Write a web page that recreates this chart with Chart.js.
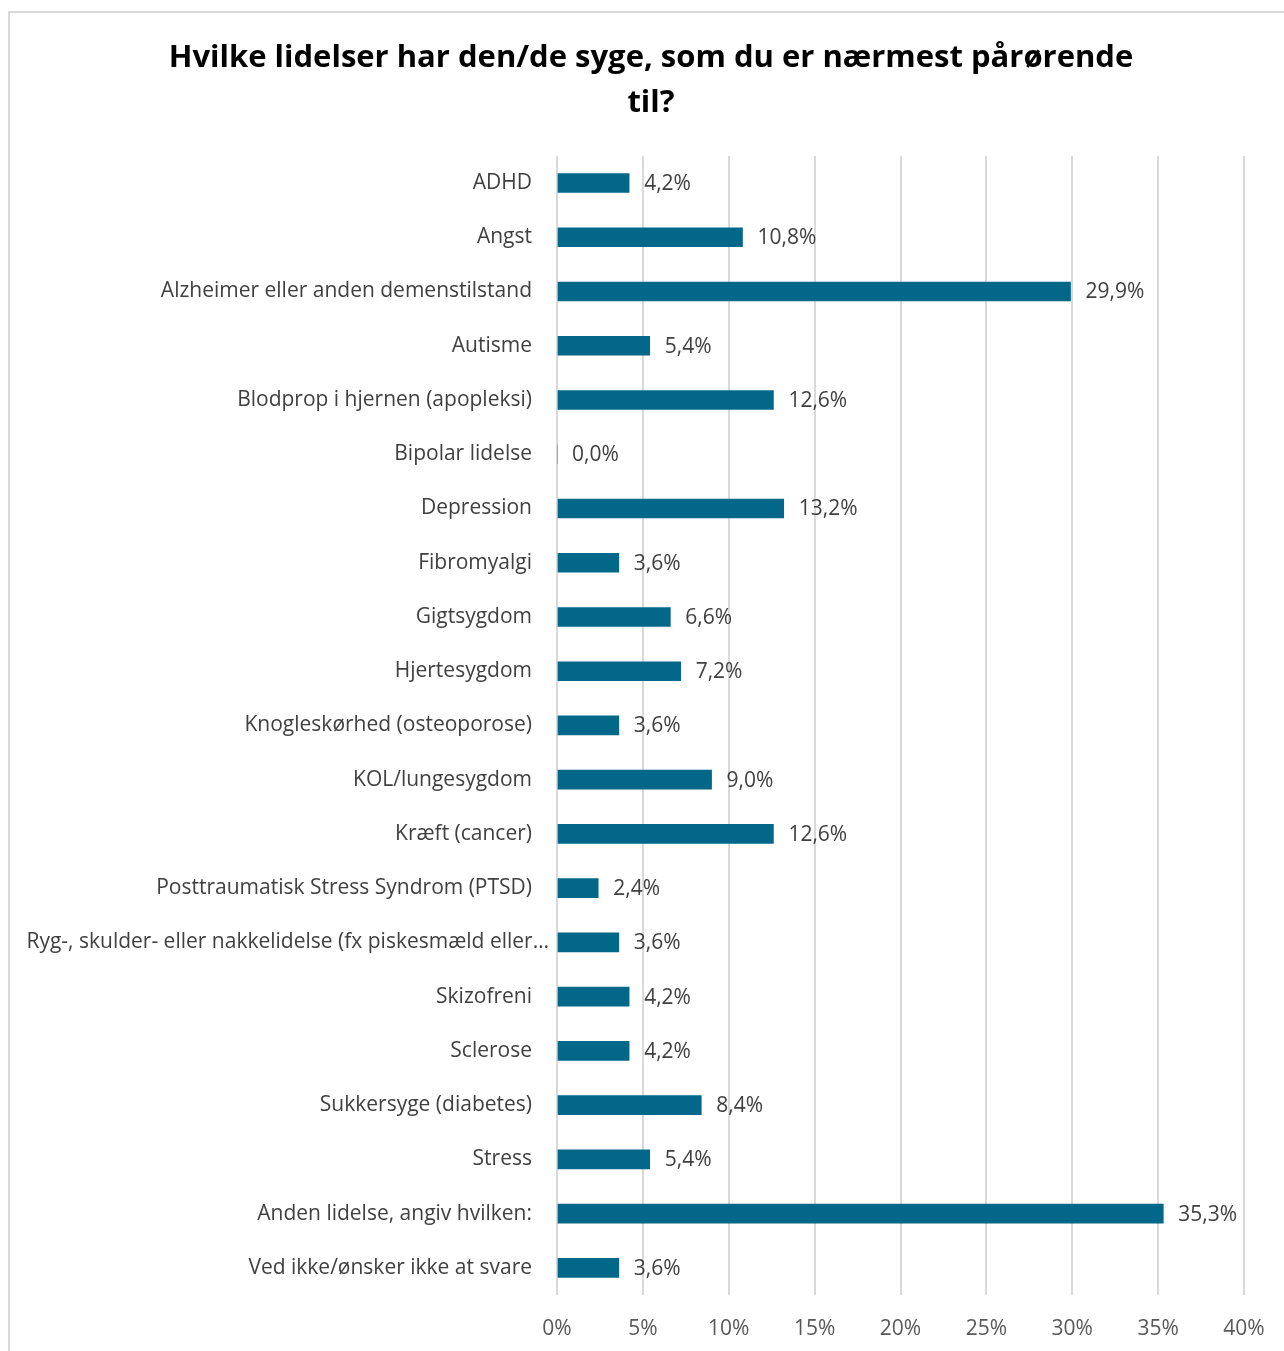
<!DOCTYPE html>
<html>
<head>
<meta charset="utf-8">
<script src="https://cdn.jsdelivr.net/npm/chart.js@4.4.1/dist/chart.umd.min.js"></script>
<style>
  html, body { margin: 0; padding: 0; background: #fff; overflow: hidden; }
  #frame { position: absolute; left: 8px; top: 11px; width: 1300px; height: 1360px; border: 2px solid #d9d9d9; }
  #chartLidelser { position: absolute; left: 9px; top: 12px; }
</style>
</head>
<body>
<div id="frame"></div>
<canvas id="chartLidelser" width="1284" height="1339"></canvas>
<script>
const lidelser = [
    'ADHD',
    'Angst',
    'Alzheimer eller anden demenstilstand',
    'Autisme',
    'Blodprop i hjernen (apopleksi)',
    'Bipolar lidelse',
    'Depression',
    'Fibromyalgi',
    'Gigtsygdom',
    'Hjertesygdom',
    'Knogleskørhed (osteoporose)',
    'KOL/lungesygdom',
    'Kræft (cancer)',
    'Posttraumatisk Stress Syndrom (PTSD)',
    'Ryg-, skulder- eller nakkelidelse (fx piskesmæld eller…',
    'Skizofreni',
    'Sclerose',
    'Sukkersyge (diabetes)',
    'Stress',
    'Anden lidelse, angiv hvilken:',
    'Ved ikke/ønsker ikke at svare'
];
const andele = [4.2, 10.8, 29.9, 5.4, 12.6, 0.0, 13.2, 3.6, 6.6, 7.2, 3.6, 9.0, 12.6, 2.4, 3.6, 4.2, 4.2, 8.4, 5.4, 35.3, 3.6];
const xTicks = [0, 5, 10, 15, 20, 25, 30, 35, 40];

const fontName = "'Open Sans', sans-serif";
const labelColor = '#404040';
const longLabel = 14; // the cut-off label runs closer to the axis

// writes "4,2%" etc. just right of each bar, plus the long category label
const valueLabels = {
    id: 'valueLabels',
    afterDatasetsDraw(chart) {
        const ctx = chart.ctx;
        const meta = chart.getDatasetMeta(0);
        ctx.save();
        ctx.font = '21px ' + fontName;
        ctx.fillStyle = labelColor;
        ctx.textAlign = 'left';
        ctx.textBaseline = 'middle';
        meta.data.forEach((bar, i) => {
            const txt = andele[i].toFixed(1).replace('.', ',') + '%';
            ctx.fillText(txt, bar.x + 15, bar.y + 1);
        });
        ctx.textAlign = 'right';
        ctx.fillText(lidelser[longLabel], chart.chartArea.left - 8, meta.data[longLabel].y);
        ctx.restore();
    }
};

const ctx = document.getElementById('chartLidelser').getContext('2d');
const myChart = new Chart(ctx, {
    type: 'bar',
    data: {
        labels: lidelser,
        datasets: [{
            data: andele,
            backgroundColor: '#03678a',
            borderWidth: 0,
            barThickness: 19
        }]
    },
    options: {
        indexAxis: 'y',
        responsive: false,
        animation: false,
        layout: { padding: 0 },
        plugins: {
            legend: { display: false },
            tooltip: { enabled: false },
            title: {
                display: true,
                text: ['Hvilke lidelser har den/de syge, som du er nærmest pårørende', 'til?'],
                color: '#000',
                font: { family: fontName, size: 31, weight: 'bold', lineHeight: 1.45 },
                padding: { top: 24, bottom: 30 }
            }
        },
        scales: {
            x: {
                min: 0,
                max: 40,
                afterBuildTicks(scale) {
                    scale.ticks = xTicks.map(v => ({ value: v }));
                },
                afterFit(scale) {
                    scale.height = 56;
                    // room on the right of the plot without moving the title
                    scale.paddingRight = 49;
                },
                grid: { color: '#d9d9d9', lineWidth: 2, drawTicks: false },
                border: { display: false },
                ticks: {
                    padding: 21,
                    color: '#595959',
                    font: { family: fontName, size: 21 },
                    callback: v => v + '%'
                }
            },
            y: {
                afterFit(scale) { scale.width = 548; },
                grid: { display: false, drawTicks: false },
                border: { display: false },
                ticks: {
                    padding: 25,
                    color: c => c.index === longLabel ? 'rgba(0,0,0,0)' : labelColor,
                    font: { family: fontName, size: 21 },
                    autoSkip: false
                }
            }
        }
    },
    plugins: [valueLabels]
});
</script>
</body>
</html>
